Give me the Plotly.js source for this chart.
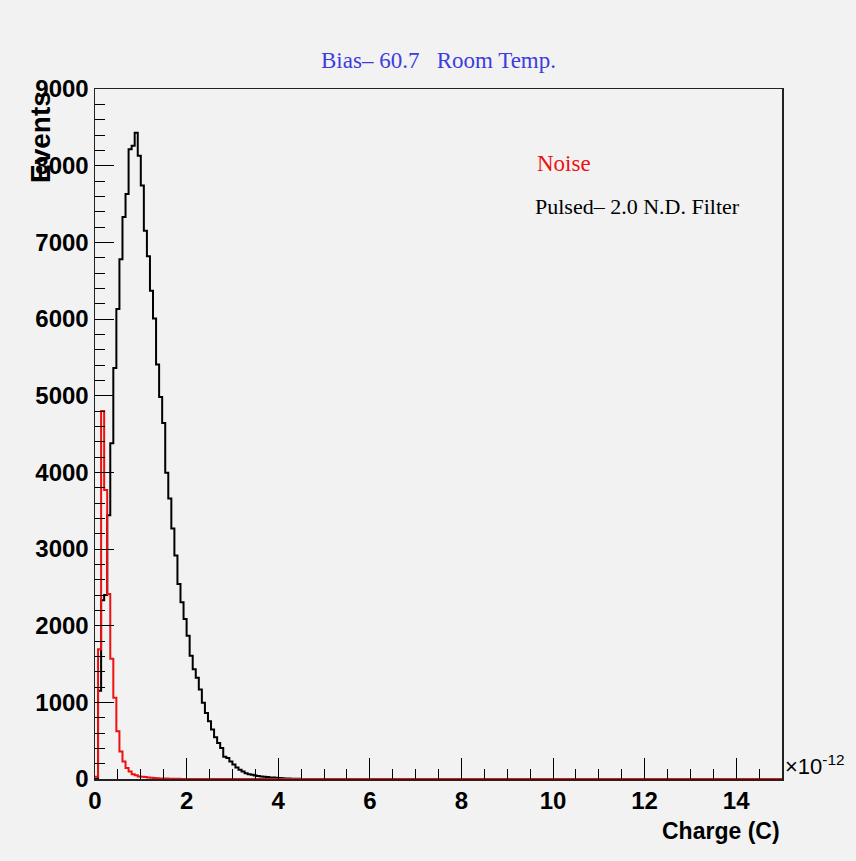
<!DOCTYPE html>
<html>
<head>
<meta charset="utf-8">
<script src="https://cdn.plot.ly/plotly-3.0.1.min.js"></script>
<style>html,body{margin:0;padding:0;background:#f2f2f2;}</style>
</head>
<body>
<div id="chart" style="width:856px;height:861px;"></div>
<script>
// Histogram binning (charge in units of 1e-12 C)
const nBins = 225;
const xMin = 0;
const xMax = 15;

// Pulsed (2.0 N.D. filter) counts per bin, starting at bin 0
const pulsedCounts = [0,1150,2330,2400,3440,4380,5360,6130,6780,7330,7630,8215,8260,8430,8130,7740,7150,6820,6370,6005,5406,4983,4642,3995,3659,3266,2916,2545,2304,2086,1868,1606,1431,1321,1169,993,862,754,645,544,469,404,290,275,229,190,151,120,98,75,63,55,46,38,33,28,25,20,18,15,12,10,8,5,4,3,2,1];

// Noise counts per bin, starting at bin 0
const noiseCounts = [30,1693,4800,3770,2414,1570,1059,623,360,229,142,98,63,50,33,30,25,20,15,12,10,8,6,5,4,3,2,2,1,1];

const xTickVals = [0,2,4,6,8,10,12,14];
const xTickText = ['0','2','4','6','8','10','12','14'];
const yTickVals = [0,1000,2000,3000,4000,5000,6000,7000,8000,9000];

function stepTrace(counts, color, name) {
  const w = (xMax - xMin) / nBins;
  const xs = [], ys = [];
  for (let k = 0; k < nBins; k++) {
    xs.push(xMin + k * w);
    ys.push(k < counts.length ? counts[k] : 0);
  }
  xs.push(xMax);
  ys.push(ys[ys.length - 1]);
  return {
    type: 'scatter', mode: 'lines', x: xs, y: ys, name: name,
    line: {shape: 'hv', color: color, width: 2},
    hoverinfo: 'skip', cliponaxis: true
  };
}

const data = [
  stepTrace(pulsedCounts, '#000000', 'Pulsed– 2.0 N.D. Filter'),
  stepTrace(noiseCounts, '#ee1111', 'Noise')
];

const tickFont = {family: 'Liberation Sans, Arial, sans-serif', size: 24, color: '#000', weight: 'bold'};
const L = 95, R = 782, T = 89, B = 779;

const layout = {
  width: 856, height: 861,
  margin: {l: L, r: 856 - R, t: T, b: 861 - B, pad: 0},
  paper_bgcolor: '#f2f2f2',
  plot_bgcolor: '#f2f2f2',
  showlegend: false,
  title: {
    text: 'Bias–\u00a060.7\u00a0\u00a0\u00a0Room Temp.',
    font: {family: 'Liberation Serif, Times New Roman, serif', size: 23, color: '#3c3ce0'},
    x: 0.5, xref: 'paper', xanchor: 'center',
    y: 1 - 60 / 861, yref: 'container', yanchor: 'middle'
  },
  xaxis: {
    range: [xMin, xMax], autorange: false,
    tickmode: 'array', tickvals: xTickVals, ticktext: xTickText,
    ticks: 'inside', ticklen: 21, tickwidth: 1, tickcolor: '#000',
    minor: {dtick: 0.5, ticks: 'inside', ticklen: 10, tickwidth: 1, tickcolor: '#000', showgrid: false},
    showgrid: false, zeroline: false,
    showline: true, linecolor: '#222', linewidth: 1.5, mirror: true,
    tickfont: tickFont
  },
  yaxis: {
    range: [0, 9000], autorange: false,
    tickmode: 'array', tickvals: yTickVals,
    ticks: 'inside', ticklen: 19, tickwidth: 1, tickcolor: '#000',
    minor: {dtick: 200, ticks: 'inside', ticklen: 10, tickwidth: 1, tickcolor: '#000', showgrid: false},
    showgrid: false, zeroline: false,
    showline: true, linecolor: '#222', linewidth: 1.5, mirror: true,
    tickfont: tickFont
  },
  annotations: [
    {text: 'Events', textangle: -90, xref: 'paper', yref: 'paper',
     x: (40 - L) / (R - L), y: 1.0, xanchor: 'center', yanchor: 'top', showarrow: false,
     font: {family: 'Liberation Sans, Arial, sans-serif', size: 28, color: '#000', weight: 'bold'}},
    {text: 'Charge (C)', xref: 'paper', yref: 'paper',
     x: 1.0, y: (B - 831) / (B - T), xanchor: 'right', yanchor: 'middle', showarrow: false,
     font: {family: 'Liberation Sans, Arial, sans-serif', size: 23, color: '#000', weight: 'bold'}},
    {text: '×10<sup>-12</sup>', xref: 'paper', yref: 'paper',
     x: (783 - L) / (R - L), y: (B - 765) / (B - T), xanchor: 'left', yanchor: 'middle', showarrow: false,
     font: {family: 'Liberation Sans, Arial, sans-serif', size: 22, color: '#000'}},
    {text: 'Noise', xref: 'paper', yref: 'paper',
     x: (535 - L) / (R - L), y: (B - 163) / (B - T), xanchor: 'left', yanchor: 'middle', showarrow: false,
     font: {family: 'Liberation Serif, Times New Roman, serif', size: 23, color: '#ee1111'}},
    {text: 'Pulsed–\u00a02.0 N.D. Filter', xref: 'paper', yref: 'paper',
     x: (533 - L) / (R - L), y: (B - 206) / (B - T), xanchor: 'left', yanchor: 'middle', showarrow: false,
     font: {family: 'Liberation Serif, Times New Roman, serif', size: 22, color: '#000'}}
  ]
};

Plotly.newPlot('chart', data, layout, {displayModeBar: false, staticPlot: true});
</script>
</body>
</html>
